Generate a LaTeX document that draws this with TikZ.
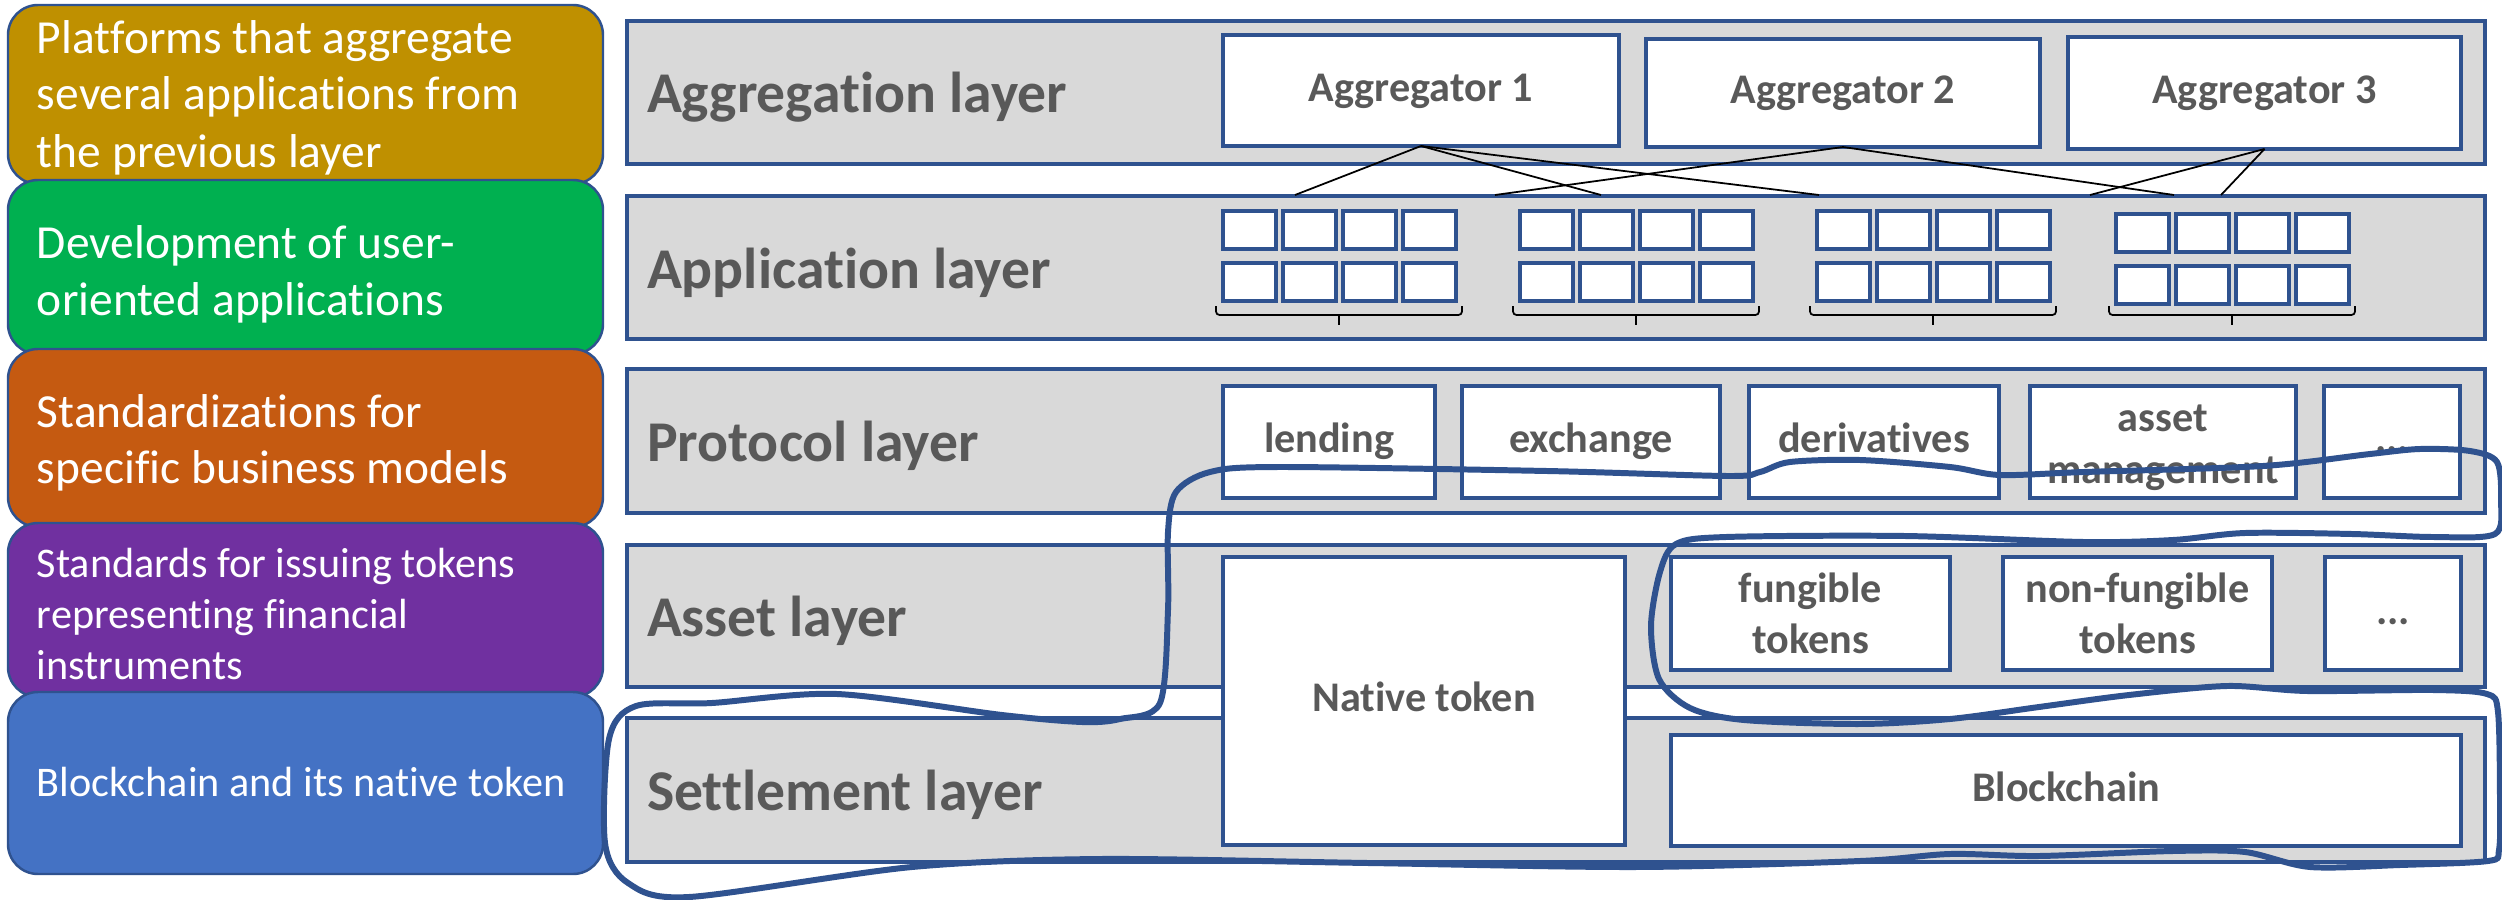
\documentclass[tikz,border=0pt]{standalone}
\usepackage{fontspec}
\setmainfont{Carlito}[Ligatures=NoCommon]
\usetikzlibrary{calc}
\definecolor{bordblue}{HTML}{2F528F}
\definecolor{layergray}{HTML}{D9D9D9}
\definecolor{txtgray}{HTML}{595959}
\definecolor{cgold}{HTML}{BF9000}
\definecolor{cgreen}{HTML}{00B050}
\definecolor{corange}{HTML}{C55A11}
\definecolor{cpurple}{HTML}{7030A0}
\definecolor{cblue}{HTML}{4472C4}
\newcommand{\bx}[7]{\node[#6,minimum width={(#4-#2)*0.01cm},minimum height={(#5-#3)*0.01cm}] (#1) at ({(#2+#4)/2},{(#3+#5)/2}) {#7};}
\begin{document}
\begin{tikzpicture}[x=0.01cm,y=-0.01cm,
  every node/.style={inner sep=0pt,outer sep=0pt},
  descbox/.style={draw=bordblue,line width=0.7pt,rounded corners=0.3cm},
  desctext/.style={anchor=base west,text=white,font=\fontsize{13.5}{16.2}\selectfont},
  desctextsm/.style={anchor=base west,text=white,font=\fontsize{12}{14.6}\selectfont},
  layerbox/.style={draw=bordblue,fill=layergray,line width=0.9pt},
  layerlabel/.style={anchor=base west,text=txtgray,font=\fontsize{16.4}{19}\selectfont\bfseries},
  itembox/.style={draw=bordblue,fill=white,line width=0.9pt,text=txtgray,font=\fontsize{12}{14.6}\selectfont\bfseries,align=center},
  itembox1/.style={itembox,text height=8.5pt,text depth=2.5pt},
  cellbox/.style={draw=bordblue,fill=white,line width=0.9pt,minimum width=0.53cm,minimum height=0.38cm},
  link/.style={black,line width=0.5pt},
  bracket/.style={black,line width=0.5pt,rounded corners=1pt},
  squiggle/.style={draw=bordblue,line width=1.7pt,line join=round}
]
\useasboundingbox (0,0) rectangle (2502,900);

% left description boxes
\bx{dgold}{8}{5}{603}{184}{descbox,fill=cgold}{}
\bx{dgreen}{8}{180}{603}{354}{descbox,fill=cgreen}{}
\bx{dorange}{8}{349}{603}{527}{descbox,fill=corange}{}
\bx{dpurple}{8}{523}{603}{697}{descbox,fill=cpurple}{}
\bx{dblue}{8}{692}{603}{874}{descbox,fill=cblue}{}

\node[desctext] (tg1) at (37,53) {Platforms that aggregate};
\node[desctext] (tg2) at (37,110) {several applications from};
\node[desctext] (tg3) at (37,167) {the previous layer};
\node[desctext] (tn1) at (37,258) {Development of user-};
\node[desctext] (tn2) at (37,315) {oriented applications};
\node[desctext] (to1) at (37,427) {Standardizations for};
\node[desctext] (to2) at (37,483) {specific business models};
\node[desctextsm] (tp1) at (37,577) {Standards for issuing tokens};
\node[desctextsm] (tp2) at (37,628) {representing financial};
\node[desctextsm] (tp3) at (37,679) {instruments};
\node[desctextsm] (tb1) at (37,796) {Blockchain and its native token};

% layer boxes
\bx{Lagg}{627}{21}{2485}{164}{layerbox}{}
\bx{Lapp}{627}{196}{2485}{339}{layerbox}{}
\bx{Lpro}{627}{369}{2485}{513}{layerbox}{}
\bx{Lass}{627}{545}{2485}{687}{layerbox}{}
\bx{Lset}{627}{718}{2485}{862}{layerbox}{}

\node[layerlabel] (lab1) at (647,112) {Aggregation layer};
\node[layerlabel] (lab2) at (647,288) {Application layer};
\node[layerlabel] (lab3) at (647,461) {Protocol layer};
\node[layerlabel] (lab4) at (647,636) {Asset layer};
\node[layerlabel] (lab5) at (647,810) {Settlement layer};

% aggregators
\bx{agg1}{1223}{35}{1619}{146}{itembox1}{Aggregator 1}
\bx{agg2}{1646}{39}{2040}{147}{itembox1}{Aggregator 2}
\bx{agg3}{2068}{37}{2461}{149}{itembox1}{Aggregator 3}

% application cells and brackets
\foreach \g/\gx/\dy in {1/1223/0,2/1520/0,3/1817/0,4/2116/3} {
  \foreach \c in {0,...,3} {
    \foreach \r/\ry in {1/211,2/263} {
      \node[cellbox] (cell-\g-\r-\c) at ({\gx+60*\c+26.5},{\ry+\dy+19}) {};
    }
  }
  \draw[bracket] (\gx-7,306) -- (\gx-7,315) -- (\gx+239,315) -- (\gx+239,306);
  \draw[bracket] (\gx+116,315) -- (\gx+116,325);
}

% links aggregators -> applications
\coordinate (a1) at (1295,195);
\coordinate (a2) at (1601,195);
\coordinate (a3) at (1819,195);
\coordinate (b1) at (1495,195);
\coordinate (b2) at (2174,195);
\coordinate (c1) at (2090,195);
\coordinate (c2) at (2221,195);
\draw[link] (agg1.south) -- (a1);
\draw[link] (agg1.south) -- (a2);
\draw[link] (agg1.south) -- (a3);
\draw[link] (agg2.south) -- (b1);
\draw[link] (agg2.south) -- (b2);
\draw[link] (agg3.south) -- (c1);
\draw[link] (agg3.south) -- (c2);

% protocol layer
\bx{lend}{1223}{386}{1435}{498}{itembox1}{lending}
\bx{exch}{1462}{386}{1720}{498}{itembox1}{exchange}
\bx{deriv}{1749}{386}{1999}{498}{itembox1}{derivatives}
\bx{assm}{2030}{386}{2296}{498}{itembox}{\raisebox{-4.5pt}[0pt][0pt]{\begin{tabular}{@{}c@{}}asset\\management\end{tabular}}}
\bx{pdots}{2324}{386}{2460}{498}{itembox1}{...}

% asset layer
\bx{native}{1223}{557}{1625}{845}{itembox1}{Native token}
\bx{fung}{1671}{557}{1950}{670}{itembox}{fungible\\tokens}
\bx{nfung}{2003}{557}{2272}{670}{itembox}{non-fungible\\tokens}
\bx{adots}{2325}{557}{2461}{670}{itembox1}{...}

% settlement layer
\bx{chain}{1671}{735}{2461}{846}{itembox1}{Blockchain}

% hand-drawn loop
\draw[squiggle] plot[smooth cycle, tension=0.5] coordinates {
 (1168,610) (1168,532) (1176,492) (1210,472) (1279,467) (1547,471) (1728,476)
 (1760,472) (1790,462) (1860,460) (1950,467) (2000,475) (2084,472) (2263,466)
 (2370,454) (2420,449) (2470,451) (2497,462) (2501,500) (2495,534) (2433,537)
 (2352,534) (2245,533) (2173,540) (2084,542) (1905,536) (1726,537) (1676,544)
 (1660,572) (1651,626) (1659,679) (1690,708) (1744,720) (1860,724) (1950,719)
 (2039,707) (2129,695) (2227,686) (2307,691) (2433,690) (2487,694) (2498,712)
 (2500,800) (2499,850) (2488,861) (2400,865) (2310,867) (2245,852) (2173,851)
 (2039,856) (1950,854) (1860,861) (1637,867) (1368,863) (1100,859) (912,867)
 (689,897) (628,883) (605,843) (609,739) (636,706) (712,703) (837,694)
 (1002,715) (1082,722) (1120,719) (1160,703)
};
\end{tikzpicture}
\end{document}
